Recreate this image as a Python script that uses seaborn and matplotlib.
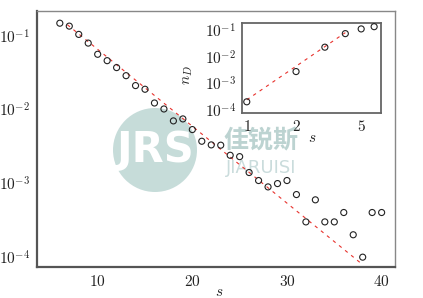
import numpy as np
import pandas as pd
import matplotlib
matplotlib.use("Agg")
import matplotlib.pyplot as plt
import seaborn as sns
from matplotlib.ticker import FixedLocator, FuncFormatter, NullLocator
from matplotlib.patches import Circle

# ---------------- data ----------------
s_main = [6, 7, 8, 9, 10, 11, 12, 13, 14, 15, 16, 17, 18, 19, 20, 21, 22, 23,
          24, 25, 26, 27, 28, 29, 30, 31, 32, 33, 34, 35, 36, 37, 38, 39, 40]
n_main = [0.149, 0.136, 0.105, 0.080, 0.0564, 0.0462, 0.0372, 0.0289, 0.0212, 0.0189,
          0.0123, 0.0102, 0.00703, 0.00748, 0.00536, 0.00372, 0.00332, 0.00329,
          0.00240, 0.00230, 0.00140, 0.00109, 0.000893, 0.000991, 0.00109,
          0.000703, 0.000299, 0.000596, 0.000299, 0.000299, 0.000401, 0.000200,
          0.0000993, 0.000401, 0.000401]
fit_main_s = [6.8, 37.8]
fit_main_n = [0.142, 0.0000824]

s_inset = [1, 2, 3, 4, 5, 6]
n_inset = [0.000202, 0.00278, 0.0230, 0.0745, 0.112, 0.136]
fit_inset_s = [1, 4]
fit_inset_n = [0.00024, 0.081]

main_xticks = [10, 20, 30, 40]
main_yticks = [1e-4, 1e-3, 1e-2, 1e-1]
inset_xticks = [1, 2, 5]
inset_yticks = [1e-4, 1e-3, 1e-2, 1e-1]

df_main = pd.DataFrame({"s": s_main, "n": n_main})
df_fit = pd.DataFrame({"s": fit_main_s, "n": fit_main_n})
df_in = pd.DataFrame({"s": s_inset, "n": n_inset})
df_infit = pd.DataFrame({"s": fit_inset_s, "n": fit_inset_n})

# ---------------- style ----------------
sns.set_style("white")
plt.rcParams["mathtext.fontset"] = "cm"
plt.rcParams["font.family"] = ["DejaVu Serif"]

fig = plt.figure(figsize=(4.23, 2.98), dpi=100)
ax = fig.add_axes([0.0875, 0.104, 0.846, 0.859])

# watermark (drawn beneath the data)
wm_ax = fig.add_axes([0, 0, 1, 1], zorder=0)
wm_ax.set_xlim(0, 423)
wm_ax.set_ylim(298, 0)
wm_ax.axis("off")
wm_ax.add_patch(Circle((155, 150), 42, facecolor="#bcd6d3", edgecolor="none", alpha=0.85))
wm_ax.text(155, 150, "JRS", ha="center", va="center", fontsize=30, color="white",
           family="DejaVu Sans", fontweight="bold")
wm_ax.text(261, 141, "佳锐斯", ha="center", va="center", fontsize=18, color="#bcd3d1",
           family=["Noto Sans CJK SC", "DejaVu Sans"], fontweight="bold")
wm_ax.text(261, 168, "JIARUISI", ha="center", va="center", fontsize=13, color="#cadcdc",
           family="DejaVu Sans")
ax.set_zorder(1)
ax.patch.set_alpha(0)

sns.lineplot(data=df_fit, x="s", y="n", ax=ax, color="#e8322d", linewidth=0.8,
             linestyle=(0, (3, 4)))
sns.scatterplot(data=df_main, x="s", y="n", ax=ax, marker="o", s=19,
                facecolor="none", edgecolor="#222222", linewidth=0.8, zorder=3)

ax.set_yscale("log")
ax.set_xlim(3.59, 41.4)
ax.set_ylim(7.3e-5, 0.218)
ax.xaxis.set_major_locator(FixedLocator(main_xticks))
ax.yaxis.set_major_locator(FixedLocator(main_yticks))
ax.yaxis.set_minor_locator(NullLocator())
ax.xaxis.set_minor_locator(NullLocator())
ax.xaxis.set_major_formatter(FuncFormatter(lambda v, p: r"$%d$" % round(v)))
ax.yaxis.set_major_formatter(FuncFormatter(lambda v, p: r"$10^{%d}$" % round(np.log10(v))))
ax.tick_params(direction="in", length=4, width=0.9, colors="#444444",
               labelcolor="#222222", labelsize=11, top=False, right=False, pad=5)
ax.set_xlabel(r"$s$", fontsize=11)
ax.xaxis.set_label_coords(0.508, -0.07)
ax.set_ylabel("")
for side in ["left", "bottom"]:
    ax.spines[side].set_color("#555555")
    ax.spines[side].set_linewidth(1.6)
for side in ["top", "right"]:
    ax.spines[side].set_color("#888888")
    ax.spines[side].set_linewidth(1.0)

# ---------------- inset ----------------
ins = fig.add_axes([0.571, 0.620, 0.329, 0.303], zorder=2)
ins.set_facecolor("white")
sns.lineplot(data=df_infit, x="s", y="n", ax=ins, color="#e8322d", linewidth=0.8,
             linestyle=(0, (3, 4)))
sns.scatterplot(data=df_in, x="s", y="n", ax=ins, marker="o", s=19,
                facecolor="none", edgecolor="#222222", linewidth=0.8, zorder=3)
ins.set_xscale("log")
ins.set_yscale("log")
ins.set_xlim(0.929, 6.58)
ins.set_ylim(7.5e-5, 0.188)
ins.xaxis.set_major_locator(FixedLocator(inset_xticks))
ins.yaxis.set_major_locator(FixedLocator(inset_yticks))
ins.xaxis.set_minor_locator(NullLocator())
ins.yaxis.set_minor_locator(NullLocator())
ins.xaxis.set_major_formatter(FuncFormatter(lambda v, p: r"$%d$" % round(v)))
ins.yaxis.set_major_formatter(FuncFormatter(lambda v, p: r"$10^{%d}$" % round(np.log10(v))))
ins.tick_params(direction="in", length=4, width=0.9, colors="#444444",
                labelcolor="#222222", labelsize=11, top=False, right=False, pad=4)
ins.set_xlabel(r"$s$", fontsize=11)
ins.xaxis.set_label_coords(0.51, -0.2)
ins.set_ylabel(r"$n_D$", fontsize=11)
ins.yaxis.set_label_coords(-0.335, 0.42)
for side in ins.spines:
    ins.spines[side].set_color("#666666")
    ins.spines[side].set_linewidth(1.3)

fig.savefig("out.png", dpi=100)
